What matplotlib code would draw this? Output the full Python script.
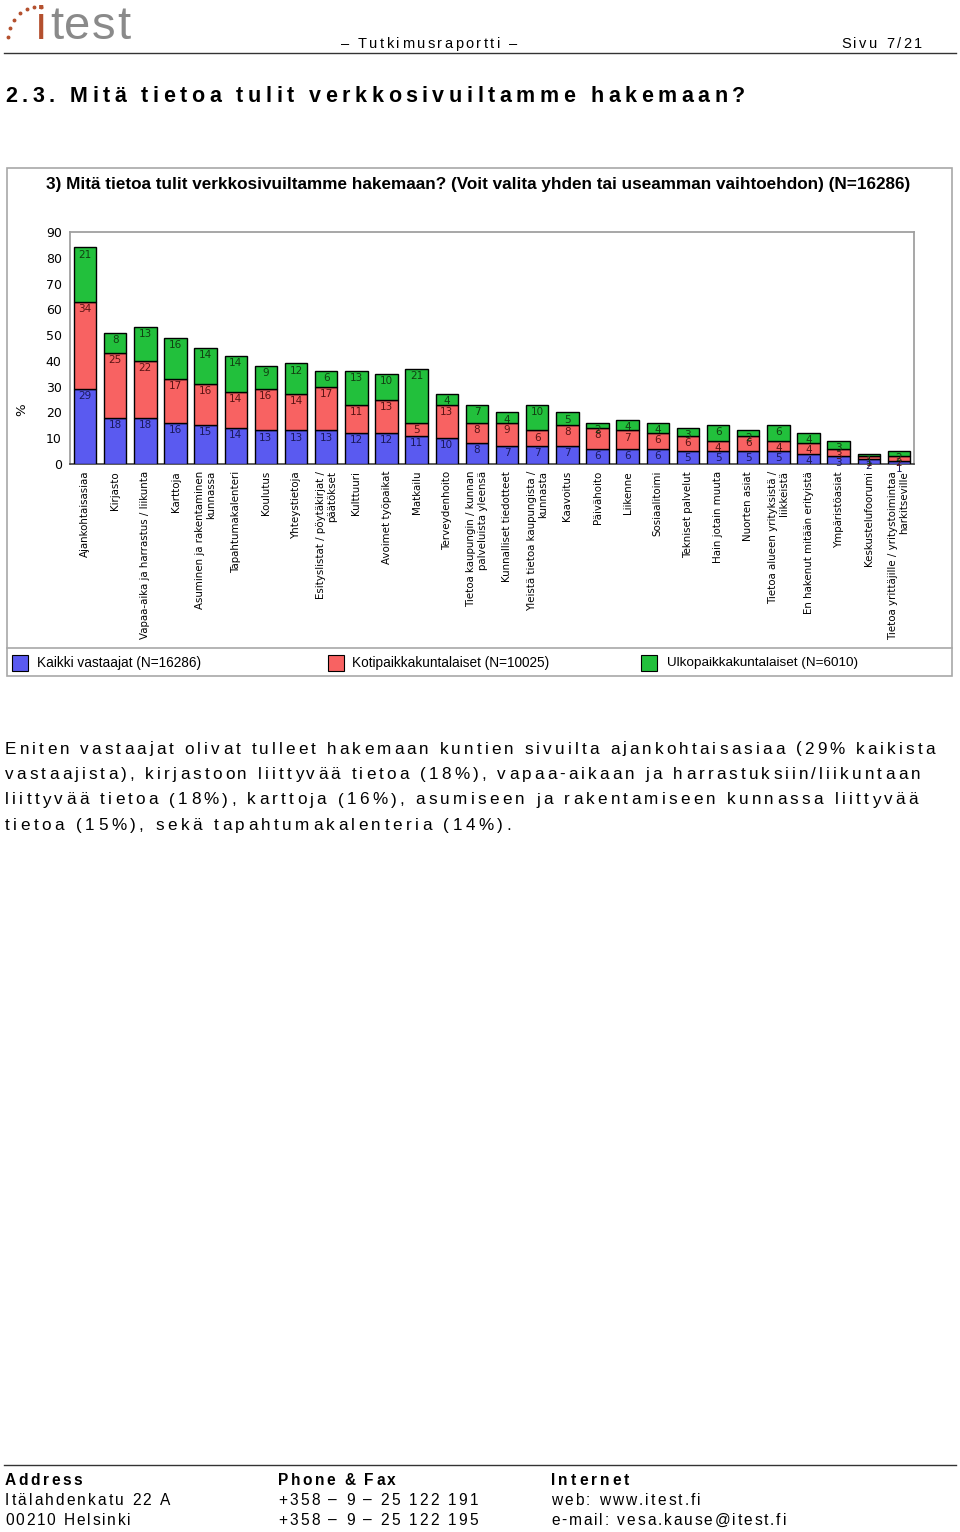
import matplotlib
matplotlib.use('Agg')
import matplotlib.pyplot as plt
from matplotlib.font_manager import FontProperties
from matplotlib.patches import Rectangle
from matplotlib.lines import Line2D
import numpy as np

# ---------------- data ----------------
categories = [
    "Ajankohtaisasiaa",
    "Kirjasto",
    "Vapaa-aika ja harrastus / liikunta",
    "Karttoja",
    "Asuminen ja rakentaminen\nkunnassa",
    "Tapahtumakalenteri",
    "Koulutus",
    "Yhteystietoja",
    "Esityslistat / pöytäkirjat /\npäätökset",
    "Kulttuuri",
    "Avoimet työpaikat",
    "Matkailu",
    "Terveydenhoito",
    "Tietoa kaupungin / kunnan\npalveluista yleensä",
    "Kunnalliset tiedotteet",
    "Yleistä tietoa kaupungista /\nkunnasta",
    "Kaavoitus",
    "Päivähoito",
    "Liikenne",
    "Sosiaalitoimi",
    "Tekniset palvelut",
    "Hain jotain muuta",
    "Nuorten asiat",
    "Tietoa alueen yrityksistä /\nliikkeistä",
    "En hakenut mitään erityistä",
    "Ympäristöasiat",
    "Keskustelufoorumi",
    "Tietoa yrittäjille / yritystoimintaa\nharkitseville",
]
kaikki = [29, 18, 18, 16, 15, 14, 13, 13, 13, 12, 12, 11, 10, 8, 7, 7, 7, 6, 6, 6, 5, 5, 5, 5, 4, 3, 2, 1]
koti   = [34, 25, 22, 17, 16, 14, 16, 14, 17, 11, 13, 5, 13, 8, 9, 6, 8, 8, 7, 6, 6, 4, 6, 4, 4, 3, 1, 2]
ulko   = [21, 8, 13, 16, 14, 14, 9, 12, 6, 13, 10, 21, 4, 7, 4, 10, 5, 2, 4, 4, 3, 6, 2, 6, 4, 3, 1, 2]
series_names = ["Kaikki vastaajat (N=16286)",
                "Kotipaikkakuntalaiset (N=10025)",
                "Ulkopaikkakuntalaiset (N=6010)"]
yticks = list(range(0, 100, 10))

chart_title = ("3) Mitä tietoa tulit verkkosivuiltamme hakemaan? "
               "(Voit valita yhden tai useamman vaihtoehdon) (N=16286)")
heading = "2.3. Mitä tietoa tulit verkkosivuiltamme hakemaan?"
body_lines = [
    "Eniten vastaajat olivat tulleet hakemaan kuntien sivuilta ajankohtaisasiaa (29% kaikista",
    "vastaajista), kirjastoon liittyvää tietoa (18%), vapaa-aikaan ja harrastuksiin/liikuntaan",
    "liittyvää tietoa (18%), karttoja (16%), asumiseen ja rakentamiseen kunnassa liittyvää",
    "tietoa (15%), sekä tapahtumakalenteria (14%).",
]

# ---------------- figure ----------------
W, H = 960, 1532
fig = plt.figure(figsize=(W / 100, H / 100), dpi=100)
fig.patch.set_facecolor('white')
renderer = fig.canvas.get_renderer()
FAM = 'Liberation Sans'
CFAM = 'DejaVu Sans'


def fx(x):
    return x / W


def fy(y):
    return 1 - y / H


def text_width(s, fp):
    return renderer.get_text_width_height_descent(s, fp, ismath=False)[0]


def spaced(x0, y, s, size, target=None, weight='normal', color='black', family=FAM):
    fp = FontProperties(family=family, size=size, weight=weight)
    ref = text_width('nn', fp)
    widths = [text_width('n' + c + 'n', fp) - ref for c in s]
    total = sum(widths)
    track = 0 if target is None else (target - total) / max(len(s) - 1, 1)
    x = x0
    for c, w in zip(s, widths):
        if c != ' ':
            fig.text(fx(x), fy(y), c, fontproperties=fp, color=color,
                     va='baseline', ha='left')
        x += w + track


def fitted(x0, x1, y, s, weight='normal', color='black', family=FAM, va='center'):
    fp = FontProperties(family=family, size=10, weight=weight)
    w = text_width(s, fp)
    size = 10 * (x1 - x0) / w
    fig.text(fx(x0), fy(y), s, family=family, size=size, weight=weight,
             color=color, va=va, ha='left')


# ---------------- page header ----------------
spaced(36, 39, "i", 34, color='#b4502e')
spaced(50, 39, "test", 34, target=80, color='#8a8a8a')
dots_x = [8, 10, 14, 20, 27, 34, 41]
dots_y = [37, 28, 20, 13, 9, 7, 7]
fig.add_artist(Line2D([fx(v) for v in dots_x], [fy(v) for v in dots_y], ls='none',
                      marker='o', ms=1.8, color='#b4502e'))
spaced(341, 48, "– Tutkimusraportti –", 10.5, target=176)
spaced(841, 48, "Sivu 7/21", 10.5, target=81)
fig.add_artist(Line2D([fx(4), fx(956)], [fy(53), fy(53)], color='#333333', lw=1))

spaced(5, 102, heading, 15.5, target=740, weight='bold')

# ---------------- chart frame ----------------
fig.add_artist(Rectangle((fx(7), fy(676)), fx(952) - fx(7), fy(168) - fy(676),
                         transform=fig.transFigure, fill=False, ec='#a8a8a8', lw=1.2))
fig.add_artist(Line2D([fx(7), fx(952)], [fy(648), fy(648)], color='#a8a8a8', lw=1.2))
fitted(46, 910, 185, chart_title, weight='bold')

ax = fig.add_axes([fx(70), fy(464), fx(914) - fx(70), fy(232) - fy(464)])
x = np.arange(len(categories))
colors = ['#5a5af0', '#f86262', '#22c03c']
lab_colors = ['#1a1a5a', '#5a1414', '#123f12']
bottom = np.zeros(len(categories))
for vals, col, lc in zip([kaikki, koti, ulko], colors, lab_colors):
    vals = np.array(vals, dtype=float)
    ax.bar(x, vals, width=0.74, bottom=bottom, color=col, edgecolor='black', lw=1.0, zorder=3)
    for xi, b, v in zip(x, bottom, vals):
        ax.annotate(f"{int(v)}", (xi, b + v), xytext=(0, -1.5), textcoords='offset points',
                    ha='center', va='top', fontsize=7.5, color=lc, family=CFAM, zorder=4)
    bottom = bottom + vals

ax.set_xlim(-0.5, len(categories) - 0.5)
ax.set_ylim(0, 90)
ax.set_yticks(yticks)
ax.set_yticklabels([str(t) for t in yticks], fontsize=9, family=CFAM)
ax.set_xticks(x)
ax.set_xticklabels(categories, rotation=90, fontsize=7.4, family=CFAM,
                   va='top', ha='center', multialignment='right', linespacing=1.15)
ax.tick_params(axis='both', length=0)
ax.tick_params(axis='x', pad=5)
ax.tick_params(axis='y', pad=6)
for s in ['top', 'right', 'left']:
    ax.spines[s].set_color('#a0a0a0')
    ax.spines[s].set_linewidth(1.3)
ax.spines['bottom'].set_color('#404040')
ax.spines['bottom'].set_linewidth(1.2)
ax.set_facecolor('white')
fig.text(fx(22), fy(410), "%", rotation=90, fontsize=9.5, family=CFAM, ha='center', va='center')

# legend
leg_x = [12, 328, 641]
leg_tx = [(37, 201), (352, 549), (667, 858)]
for lx, (t0, t1), col, name in zip(leg_x, leg_tx, colors, series_names):
    fig.add_artist(Rectangle((fx(lx), fy(671)), fx(16), fy(655) - fy(671),
                             transform=fig.transFigure, fc=col, ec='black', lw=0.8))
    fitted(t0, t1, 663, name)

# ---------------- body text ----------------
body_base = [753.5, 779, 804.5, 830]
body_targets = [930, 915, 913, 506]
for line, yb, tw in zip(body_lines, body_base, body_targets):
    spaced(5, yb, line, 12.3, target=tw)

# ---------------- footer ----------------
fig.add_artist(Line2D([fx(4), fx(956)], [fy(1465), fy(1465)], color='#333333', lw=1))
footer = [
    (5, 1485, "Address", 77, 'bold'),
    (5, 1505, "Itälahdenkatu 22 A", 165, 'normal'),
    (5, 1525, "00210 Helsinki", 126, 'normal'),
    (278, 1485, "Phone & Fax", 118, 'bold'),
    (278, 1505, "+358 – 9 – 25 122 191", 200, 'normal'),
    (278, 1525, "+358 – 9 – 25 122 195", 200, 'normal'),
    (551, 1485, "Internet", 78, 'bold'),
    (551, 1505, "web: www.itest.fi", 150, 'normal'),
    (551, 1525, "e-mail: vesa.kause@itest.fi", 235, 'normal'),
]
for x0, yb, s, tw, wt in footer:
    spaced(x0, yb, s, 11.2, target=tw, weight=wt)

fig.savefig('out.png', dpi=100, facecolor='white')
